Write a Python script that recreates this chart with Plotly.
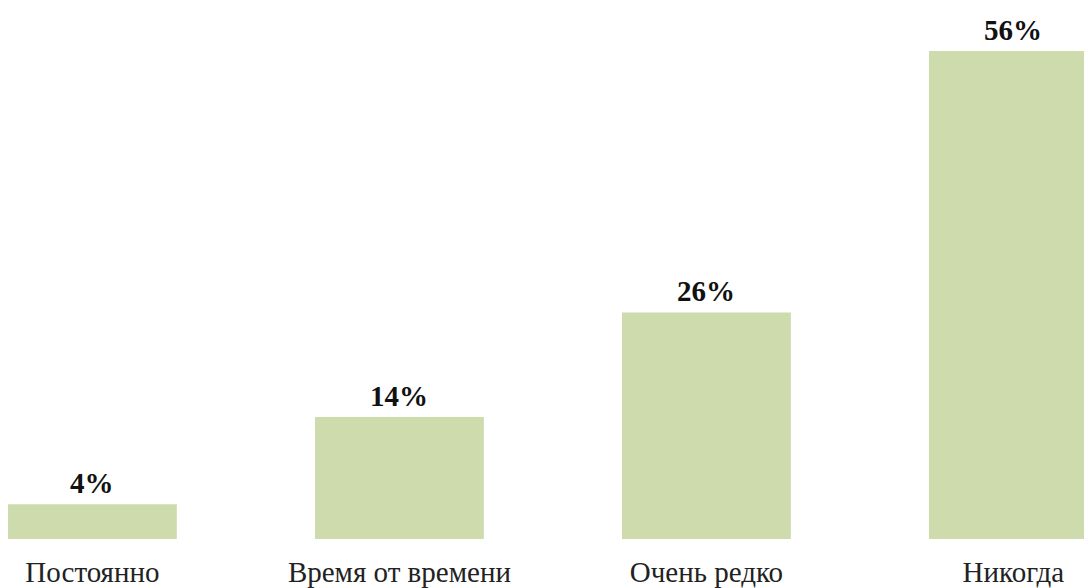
import plotly.graph_objects as go

categories = ["Постоянно", "Время от времени", "Очень редко", "Никогда"]
values = [4, 14, 26, 56]
labels = ["4%", "14%", "26%", "56%"]

fig = go.Figure()
fig.add_trace(go.Bar(
    x=categories, y=values, width=0.55,
    marker=dict(color="#cedcad", line=dict(width=0)),
    hoverinfo="skip",
))
for c, v, t in zip(categories, values, labels):
    fig.add_annotation(x=c, y=v, text="<b>" + t + "</b>", showarrow=False,
                       yanchor="bottom", yshift=3,
                       font=dict(family="Liberation Serif", size=29, color="#111"))

fig.update_layout(
    width=1084, height=580,
    margin=dict(l=0, r=0, t=0, b=44),
    paper_bgcolor="white", plot_bgcolor="white",
    showlegend=False,
    xaxis=dict(range=[-0.275, 3.256], showgrid=False, zeroline=False, showline=False,
               ticks="outside", ticklen=7, tickcolor="rgba(0,0,0,0)",
               tickfont=dict(family="Liberation Serif", size=29, color="#222")),
    yaxis=dict(range=[0, 60.95], visible=False),
)
fig.write_html("out.html")
